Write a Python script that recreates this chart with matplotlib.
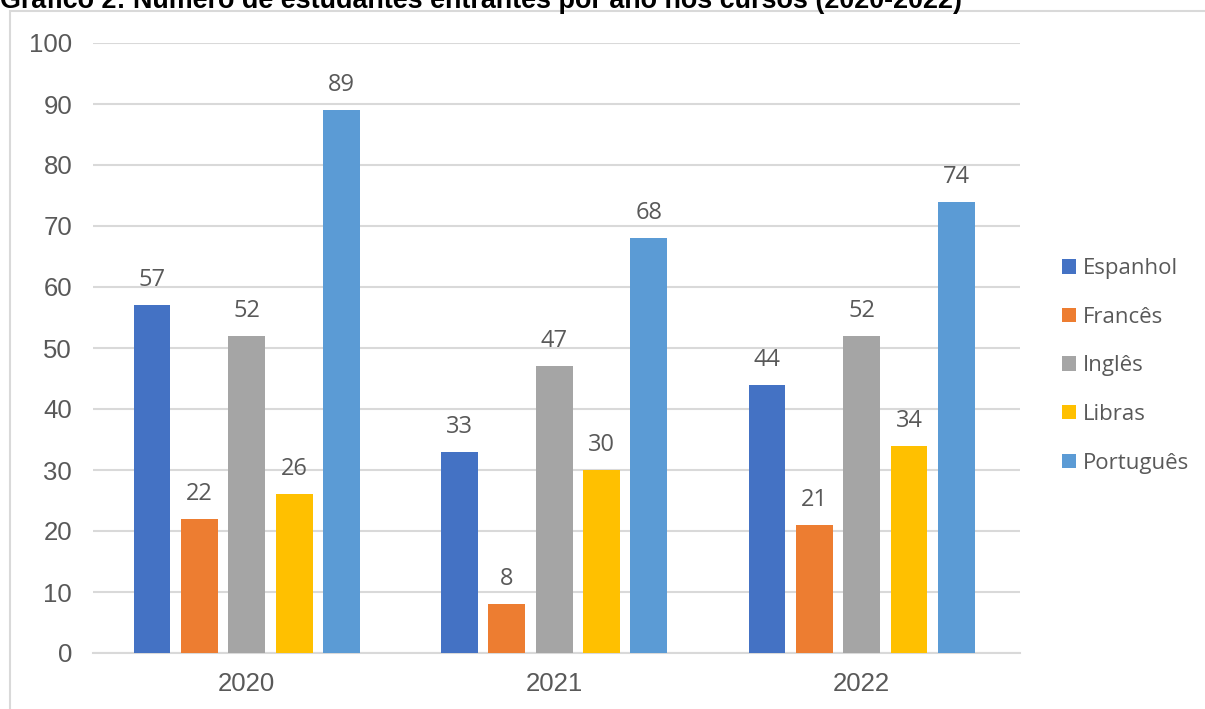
import matplotlib
matplotlib.use("Agg")
import matplotlib.pyplot as plt
from matplotlib.patches import Rectangle
import numpy as np

years = ["2020", "2021", "2022"]
series = ["Espanhol", "Francês", "Inglês", "Libras", "Português"]
espanhol = [57, 33, 44]
frances = [22, 8, 21]
ingles = [52, 47, 52]
libras = [26, 30, 34]
portugues = [89, 68, 74]
values = [espanhol, frances, ingles, libras, portugues]
colors = ["#4472C4", "#ED7D31", "#A5A5A5", "#FFC000", "#5B9BD5"]
yticks = [0, 10, 20, 30, 40, 50, 60, 70, 80, 90, 100]
title = "Gráfico 2: Número de estudantes entrantes por ano nos cursos (2020-2022)"

W, H = 1205, 709
fig = plt.figure(figsize=(W / 100, H / 100), dpi=100)
ax = fig.add_axes([93 / W, (H - 653) / H, (1020 - 93) / W, (653 - 43) / H])

text_color = "#595959"
pitch = 0.154
width = 0.12
x = np.arange(len(years))
for i, (name, vals, col) in enumerate(zip(series, values, colors)):
    off = (i - 2) * pitch
    bars = ax.bar(x + off, vals, width=width, color=col, label=name, zorder=3)
    for b, v in zip(bars, vals):
        ax.text(b.get_x() + b.get_width() / 2, v + 3.1, str(v), ha="center", va="baseline",
                fontsize=17, color=text_color, family="Open Sans")

ax.set_ylim(0, 100)
ax.set_xlim(-0.5, 2.515)
ax.set_yticks(yticks)
ax.set_yticklabels([str(t) for t in yticks], fontsize=18.5, color=text_color, family="Liberation Sans")
ax.set_xticks(x)
ax.set_xticklabels(years, fontsize=18.5, color=text_color, family="Liberation Sans")
ax.tick_params(axis="both", length=0)
ax.tick_params(axis="y", pad=15)
ax.tick_params(axis="x", pad=14)
ax.grid(axis="y", color="#D9D9D9", lw=1.5, zorder=0)
for s in ["top", "right", "left"]:
    ax.spines[s].set_visible(False)
ax.spines["bottom"].set_color("#D9D9D9")
ax.spines["bottom"].set_linewidth(1.5)

leg = fig.legend(loc="center left", bbox_to_anchor=(1042 / W, 1 - 366 / H), frameon=False,
                 prop={"family": "Open Sans", "size": 16}, labelcolor=text_color,
                 handlelength=0.62, handleheight=0.62, handletextpad=0.3, labelspacing=1.24)

fig.patches.append(Rectangle((10 / W, -0.1), 1.2, (H - 11) / H + 0.1, transform=fig.transFigure,
                             fill=False, edgecolor="#D9D9D9", lw=1.5))

fig.text(0, 1 - 8 / H, title, ha="left", va="baseline", fontsize=19.4, fontweight="bold",
         family="Liberation Sans", color="black")

fig.savefig("out.png", dpi=100)
